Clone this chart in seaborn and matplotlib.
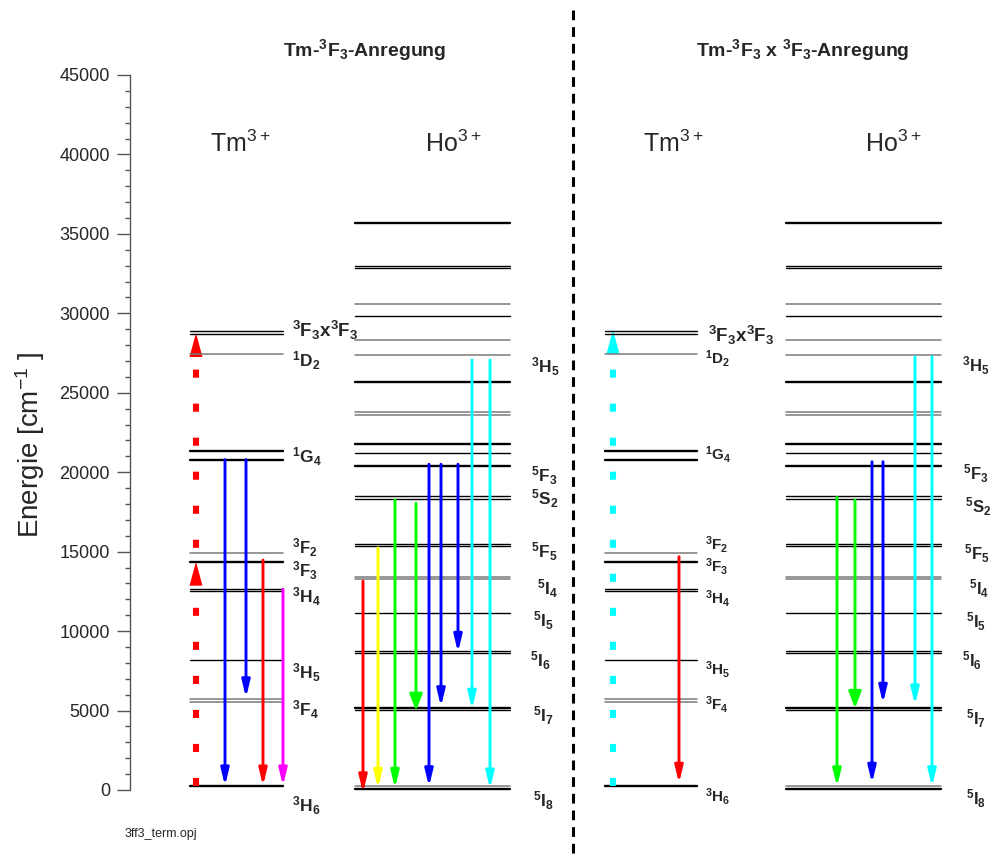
import numpy as np
import pandas as pd
import matplotlib
matplotlib.use("Agg")
import matplotlib.pyplot as plt
from matplotlib.ticker import FixedLocator
import seaborn as sns

# ---------------- data (energies in cm^-1) ----------------
tm_levels = [28880, 28720, 27420, 21350, 20790, 14930, 14370, 12630, 12520,
             8180, 5730, 5540, 250]
tm_kinds = ["thin", "thin", "grey", "thick", "thick", "grey", "thick", "thin",
            "thin", "thin", "grey", "grey", "thick"]

ho_levels = [35660, 33000, 32870, 30570, 29830, 28320, 27400, 25700, 23770,
             23620, 21760, 21190, 20410, 18500, 18330, 15500, 15340, 13400,
             13280, 11160, 8770, 8600, 5180, 5010, 250, 80]
ho_kinds = ["thick", "thin", "thin", "grey", "thin", "grey", "grey", "thick",
            "grey", "grey", "thick", "thin", "thick", "thin", "thin", "thin",
            "thin", "grey", "grey", "thin", "thin", "thin", "thick", "thin",
            "grey", "thick"]

# decay arrows: (start energy, end energy, colour, big head)
left_tm_arrows = [(20790, 250, "#0000FF", False), (20790, 5800, "#0000FF", False),
                  (14470, 250, "#FF0000", False), (12630, 250, "#FF00FF", False)]
left_ho_arrows = [(13150, -180, "#FF0000", False), (15240, 100, "#FFFF00", False),
                  (18250, 100, "#00FF00", False), (18040, 4970, "#00FF00", True),
                  (20500, 200, "#0000FF", False), (20500, 5240, "#0000FF", False),
                  (20500, 8660, "#0000FF", False), (27060, 5080, "#00FFFF", False),
                  (27060, 60, "#00FFFF", False)]
right_tm_arrows = [(14680, 420, "#FF0000", False)]
right_ho_arrows = [(18420, 200, "#00FF00", False), (18250, 5140, "#00FF00", True),
                   (20660, 420, "#0000FF", False), (20660, 5450, "#0000FF", False),
                   (27270, 5350, "#00FFFF", False), (27270, 200, "#00FFFF", False)]

# excitation (dashed, upward): start, arrow tips
left_exc = (250, [14370, 28760], "#FF0000")
right_exc = (250, [28950], "#00FFFF")

tm_labels = [r"$^{3}$F$_{3}$x$^{3}$F$_{3}$", r"$^{1}$D$_{2}$", r"$^{1}$G$_{4}$",
             r"$^{3}$F$_{2}$", r"$^{3}$F$_{3}$", r"$^{3}$H$_{4}$", r"$^{3}$H$_{5}$",
             r"$^{3}$F$_{4}$", r"$^{3}$H$_{6}$"]
ho_labels = [r"$^{3}$H$_{5}$", r"$^{5}$F$_{3}$", r"$^{5}$S$_{2}$", r"$^{5}$F$_{5}$",
             r"$^{5}$I$_{4}$", r"$^{5}$I$_{5}$", r"$^{5}$I$_{6}$", r"$^{5}$I$_{7}$",
             r"$^{5}$I$_{8}$"]
yticks = list(range(0, 45001, 5000))

# ---------------- layout ----------------
sns.set_theme(style="ticks")
plt.rcParams["font.family"] = ["Liberation Sans", "DejaVu Sans"]
plt.rcParams["mathtext.default"] = "regular"
plt.rcParams["lines.scale_dashes"] = False

W, H = 991, 860
fig = plt.figure(figsize=(W / 100, H / 100), dpi=100)
Y0, PPE = 790.0, 15.89 / 1000.0


def e_of(py):
    return (Y0 - py) / PPE


ax = fig.add_axes([130 / W, 0, 1 - 130 / W, 1])
ax.set_xlim(130, W)
ax.set_ylim(e_of(H), e_of(0))

panels = {"ltm": (190, 283), "lho": (355, 510), "rtm": (605, 697), "rho": (786, 941)}

rows = []
uid = 0
for key, levels, kinds in [("ltm", tm_levels, tm_kinds), ("lho", ho_levels, ho_kinds),
                           ("rtm", tm_levels, tm_kinds), ("rho", ho_levels, ho_kinds)]:
    x0, x1 = panels[key]
    for e, k in zip(levels, kinds):
        rows.append({"x": x0, "E": e, "kind": k, "uid": uid})
        rows.append({"x": x1, "E": e, "kind": k, "uid": uid})
        uid += 1
df = pd.DataFrame(rows)
sns.lineplot(data=df, x="x", y="E", units="uid", estimator=None, hue="kind",
             size="kind", palette={"thick": "black", "thin": "black", "grey": "#7a7a7a"},
             sizes={"thick": 1.7, "thin": 1.0, "grey": 1.1}, legend=False, sort=False, ax=ax)


def draw_arrows(xs, arrows):
    for x, (e0, e1, c, big) in zip(xs, arrows):
        hw = 0.19 if big else 0.12
        ax.annotate("", xy=(x, e1), xytext=(x, e0),
                    arrowprops=dict(arrowstyle=f"-|>,head_length=0.5,head_width={hw}",
                                    color=c, lw=2.1, shrinkA=0, shrinkB=0,
                                    mutation_scale=20))


draw_arrows([225, 246, 263, 283], left_tm_arrows)
draw_arrows([363, 378, 395, 416, 429, 441, 458, 472, 490], left_ho_arrows)
draw_arrows([679], right_tm_arrows)
draw_arrows([837, 855, 872, 883, 915, 932], right_ho_arrows)

head_len = 24 / PPE
for x, (e0, tips, c) in [(196, left_exc), (613, right_exc)]:
    ax.plot([x, x], [e0, tips[-1] - head_len], color=c, lw=4.4,
            dashes=(5.8, 18.7), dash_capstyle="butt", solid_capstyle="butt")
    for t in tips:
        ax.fill([x - 6.5, x + 6.5, x], [t - head_len, t - head_len, t], color=c, lw=0)

# separator
ax.plot([573, 573], [e_of(10), e_of(H)], color="black", lw=2.2, dashes=(7, 5),
        dash_capstyle="butt")

# level labels
lt_x = [292] * 9
lt_b = [337, 367, 463, 554, 577, 603, 679, 716, 812]
lt_fs = [13.5, 12.5, 12.5, 12, 12, 12.5, 12.5, 12.5, 12.5]
for x, b, s, fs in zip(lt_x, lt_b, tm_labels, lt_fs):
    ax.text(x, e_of(b), s, fontsize=fs, fontweight="bold", ha="left", va="baseline")

lh_x = [531, 531, 531, 531, 537, 533, 530, 533, 533]
lh_b = [373, 482, 505, 558, 595, 627, 667, 722, 807]
for x, b, s in zip(lh_x, lh_b, ho_labels):
    ax.text(x, e_of(b), s, fontsize=12.5, fontweight="bold", ha="left", va="baseline")

rt_x = [708] + [705] * 8
rt_b = [342, 364, 460, 550, 572, 604, 675, 710, 802]
rt_fs = [13.5] + [11] * 8
for x, b, s, fs in zip(rt_x, rt_b, tm_labels, rt_fs):
    ax.text(x, e_of(b), s, fontsize=fs, fontweight="bold", ha="left", va="baseline")

rh_x = [962, 963, 965, 964, 969, 966, 962, 966, 966]
rh_b = [372, 480, 513, 560, 595, 628, 667, 725, 805]
for x, b, s in zip(rh_x, rh_b, ho_labels):
    ax.text(x, e_of(b), s, fontsize=12, fontweight="bold", ha="left", va="baseline")

# ion labels and titles
for x, s in [(210, r"Tm$^{3+}$"), (425, r"Ho$^{3+}$"), (643, r"Tm$^{3+}$"), (865, r"Ho$^{3+}$")]:
    ax.text(x, e_of(152), s, fontsize=18, ha="left", va="baseline")
ax.text(365, e_of(56), r"Tm-$^{3}$F$_{3}$-Anregung", fontsize=14, fontweight="bold",
        ha="center", va="baseline")
ax.text(803, e_of(56), r"Tm-$^{3}$F$_{3}$ x $^{3}$F$_{3}$-Anregung", fontsize=14,
        fontweight="bold", ha="center", va="baseline")

fig.text(125 / W, 1 - 837 / H, "3ff3_term.opj", fontsize=9, ha="left", va="baseline")
fig.text(30 / W, 1 - 445 / H, r"Energie [cm$^{-1}$ ]", rotation=90, fontsize=20,
         ha="center", va="center")

# axis styling
for sp in ["top", "right", "bottom"]:
    ax.spines[sp].set_visible(False)
ax.spines["left"].set_bounds(0, 45000)
ax.spines["left"].set_color("#555555")
ax.spines["left"].set_linewidth(1.0)
ax.set_yticks(yticks)
ax.set_yticklabels([str(t) for t in yticks])
ax.yaxis.set_minor_locator(FixedLocator([v for v in range(0, 45001, 1000) if v % 5000]))
ax.tick_params(axis="y", which="major", direction="out", length=9.4, width=1,
               color="#555555", labelsize=13, pad=5, left=True)
ax.tick_params(axis="y", which="minor", direction="out", length=3.6, width=1,
               color="#555555", left=True)
ax.set_xticks([])
ax.set_xlabel("")
ax.set_ylabel("")
ax.set_facecolor("white")

fig.savefig("out.png", dpi=100, facecolor="white")
